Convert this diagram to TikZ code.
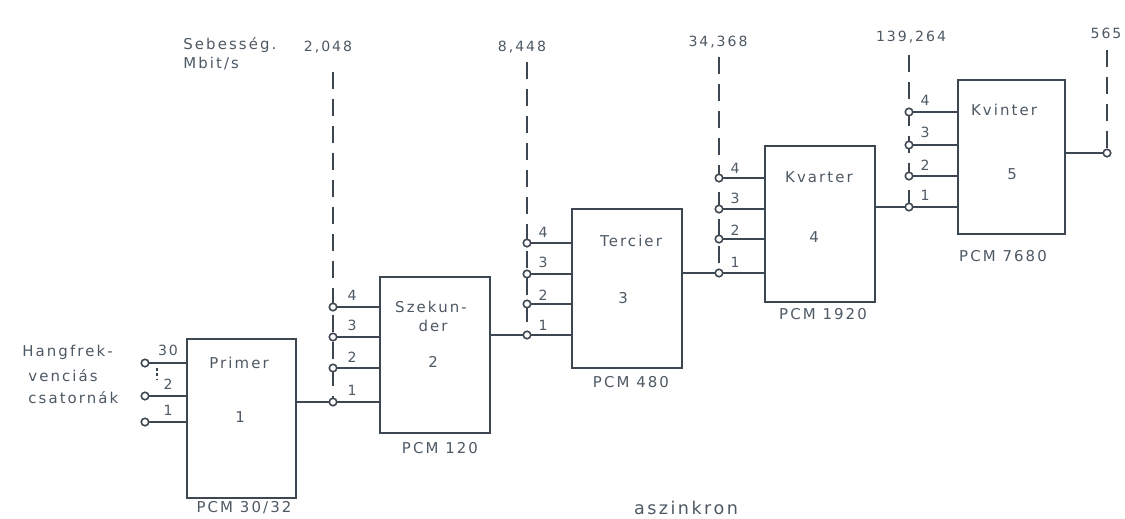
\documentclass[tikz,border=0pt]{standalone}
\usepackage{fontspec}
\setmainfont[LetterSpace=14]{DejaVu Sans}
\definecolor{ink}{HTML}{3C4752}
\definecolor{txt}{HTML}{4E5964}
\begin{document}
\begin{tikzpicture}[x=0.02cm,y=-0.02cm,
  blk/.style={draw=ink, line width=1.1pt, anchor=north west, inner sep=0pt},
  term/.style={circle, draw=ink, fill=white, line width=0.9pt, inner sep=0pt, minimum size=0.15cm},
  wire/.style={draw=ink, line width=1.1pt},
  bus/.style={draw=ink, line width=1.1pt, dash pattern=on 0.34cm off 0.2cm},
  lbl/.style={text=txt, font=\fontsize{8.5}{10}\selectfont, inner sep=0pt},
  num/.style={text=txt, font=\fontsize{8}{10}\selectfont, inner sep=0pt}]
\useasboundingbox (0,0) rectangle (1125,518);
\fill[white] (0,0) rectangle (1125,518);

% blocks
\node[blk, minimum width=2.18cm, minimum height=3.18cm] (p1) at (186,338) {};
\node[blk, minimum width=2.2cm, minimum height=3.12cm] (p2) at (379,276) {};
\node[blk, minimum width=2.2cm, minimum height=3.18cm] (p3) at (571,208) {};
\node[blk, minimum width=2.2cm, minimum height=3.12cm] (p4) at (764,145) {};
\node[blk, minimum width=2.14cm, minimum height=3.08cm] (p5) at (957,79) {};

% bus tops
\coordinate (bt) at (333,72);
\coordinate (ct) at (527,62);
\coordinate (dt) at (719,57);
\coordinate (et) at (909,55);
\coordinate (ft) at (1107,50);

% terminal coordinates
\coordinate (aa) at (145,363); \coordinate (ab) at (145,396); \coordinate (ac) at (145,422);
\coordinate (b4) at (333,307); \coordinate (b3) at (333,337); \coordinate (b2) at (333,368); \coordinate (b1) at (333,402);
\coordinate (c4) at (527,243); \coordinate (c3) at (527,274); \coordinate (c2) at (527,304); \coordinate (c1) at (527,335);
\coordinate (d4) at (719,178); \coordinate (d3) at (719,209); \coordinate (d2) at (719,239); \coordinate (d1) at (719,273);
\coordinate (e4) at (909,112); \coordinate (e3) at (909,145); \coordinate (e2) at (909,176); \coordinate (e1) at (909,207);
\coordinate (f0) at (1107,153);

% dashed rate lines
\draw[bus] (bt) -- (b1);
\draw[bus] (ct) -- (c1);
\draw[bus] (dt) -- (d1);
\draw[bus] (et) -- (e1);
\draw[bus] (ft) -- (f0);
\draw[draw=ink, line width=0.6pt, dash pattern=on 1.5pt off 1.5pt] (157,368) -- (157,380);

% input wires
\foreach \t in {aa,ab,ac} \draw[wire] (\t) -- (\t -| p1.west);
\foreach \t in {b4,b3,b2,b1} \draw[wire] (\t) -- (\t -| p2.west);
\foreach \t in {c4,c3,c2,c1} \draw[wire] (\t) -- (\t -| p3.west);
\foreach \t in {d4,d3,d2,d1} \draw[wire] (\t) -- (\t -| p4.west);
\foreach \t in {e4,e3,e2,e1} \draw[wire] (\t) -- (\t -| p5.west);

% output wires
\draw[wire] (p1.east |- b1) -- (b1);
\draw[wire] (p2.east |- c1) -- (c1);
\draw[wire] (p3.east |- d1) -- (d1);
\draw[wire] (p4.east |- e1) -- (e1);
\draw[wire] (p5.east |- f0) -- (f0);

% terminals
\foreach \t in {aa,ab,ac,b4,b3,b2,b1,c4,c3,c2,c1,d4,d3,d2,d1,e4,e3,e2,e1,f0}
  \node[term] (t\t) at (\t) {};

% input numbers
\node[num] (na) at (168,350) {30};
\node[num] (nb) at (168,384) {2};
\node[num] (nc) at (168,410) {1};
\foreach \t/\y/\n in {4/295/4,3/325/3,2/357/2,1/390/1} \node[num] (nb\t) at (352,\y) {\n};
\foreach \t/\y/\n in {4/232/4,3/262/3,2/295/2,1/325/1} \node[num] (nc\t) at (543,\y) {\n};
\foreach \t/\y/\n in {4/168/4,3/198/3,2/230/2,1/262/1} \node[num] (nd\t) at (735,\y) {\n};
\foreach \t/\y/\n in {4/100/4,3/132/3,2/165/2,1/195/1} \node[num] (ne\t) at (925,\y) {\n};

% rates
\node[lbl, anchor=west] (seb) at (183,45) {Sebesség.};
\node[lbl, anchor=west] (mbit) at (183,64) {Mbit/s};
\node[num] (r1) at (328,47) {2,048};
\node[num] (r2) at (522,47) {8,448};
\node[num] (r3) at (718,42) {34,368};
\node[num] (r4) at (911,37) {139,264};
\node[num] (r5) at (1106,33) {565};

% left text
\node[lbl, anchor=west] (h1) at (22,352) {Hangfrek-};
\node[lbl, anchor=west] (h2) at (28,376) {venciás};
\node[lbl, anchor=west] (h3) at (28,398) {csatornák};

% block texts
\node[lbl] (l1a) at (239,363) {Primer};
\node[lbl] (l1b) at (240,417) {1};
\node[lbl] (l1c) at (244,508) {PCM 30/32};
\node[lbl] (l2a) at (431,307) {Szekun-};
\node[lbl] (l2b) at (433,326) {der};
\node[lbl] (l2c) at (433,362) {2};
\node[lbl] (l2d) at (440,448) {PCM 120};
\node[lbl] (l3a) at (631,241) {Tercier};
\node[lbl] (l3b) at (623,298) {3};
\node[lbl] (l3c) at (631,382) {PCM 480};
\node[lbl] (l4a) at (819,177) {Kvarter};
\node[lbl] (l4b) at (814,237) {4};
\node[lbl] (l4c) at (823,314) {PCM 1920};
\node[lbl] (l5a) at (1004,110) {Kvinter};
\node[lbl] (l5b) at (1012,174) {5};
\node[lbl] (l5c) at (1003,256) {PCM 7680};

\node[text=txt, font=\fontsize{10}{12}\selectfont, inner sep=0pt] (asz) at (686,508) {aszinkron};
\end{tikzpicture}
\end{document}
